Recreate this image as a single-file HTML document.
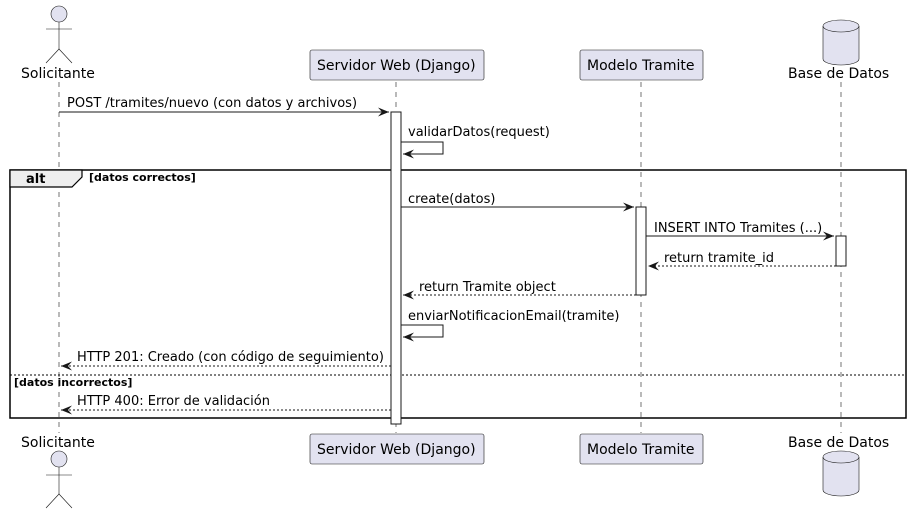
<!DOCTYPE html>
<html><head><meta charset="utf-8"><style>
html,body{margin:0;padding:0;background:#fff;}
svg{display:block;}
text{font-family:"DejaVu Sans","Liberation Sans",sans-serif;font-size:13px;fill:#000;}
.p{font-size:14px;}
.b{font-weight:bold;font-size:11px;}
</style></head><body>
<svg width="911" height="515" viewBox="0 0 911 515" xmlns="http://www.w3.org/2000/svg">
<defs>
<marker id="o" viewBox="0 0 12 10" refX="11" refY="5" markerWidth="12" markerHeight="10" markerUnits="userSpaceOnUse" orient="auto">
<path d="M0,0.5 L11,5 L0,9.5 L4,5 Z" fill="#181818"/>
</marker>
</defs>
<g stroke="#181818" stroke-width="0.6" stroke-dasharray="5,5">
<line x1="59" y1="82" x2="59" y2="433"/>
<line x1="396" y1="82" x2="396" y2="433"/>
<line x1="641" y1="82" x2="641" y2="433"/>
<line x1="841" y1="82" x2="841" y2="433"/>
</g>
<rect x="10" y="170" width="896" height="248" fill="none" stroke="#000" stroke-width="1.5"/>
<path d="M10,170 L82,170 L82,177 L72,187 L10,187 Z" fill="#eee" stroke="#000" stroke-width="1.2"/>
<text x="26" y="183" style="font-weight:bold;font-size:13px">alt</text>
<text x="89" y="181" class="b">[datos correctos]</text>
<line x1="10" y1="375" x2="906" y2="375" stroke="#000" stroke-width="1" stroke-dasharray="2,2"/>
<text x="14" y="386" class="b">[datos incorrectos]</text>
<rect x="391" y="112" width="10" height="312" fill="#fff" stroke="#181818"/>
<rect x="636" y="207" width="10" height="88" fill="#fff" stroke="#181818"/>
<rect x="836" y="236" width="10" height="30" fill="#fff" stroke="#181818"/>
<g stroke="#181818" stroke-width="1" fill="none">
<line x1="59" y1="112" x2="389" y2="112" marker-end="url(#o)"/>
<polyline points="401,142 443,142 443,154 403,154" marker-end="url(#o)"/>
<line x1="401" y1="207" x2="634" y2="207" marker-end="url(#o)"/>
<line x1="646" y1="236" x2="834" y2="236" marker-end="url(#o)"/>
<line x1="836" y1="266" x2="648" y2="266" stroke-dasharray="2,2" marker-end="url(#o)"/>
<line x1="636" y1="295" x2="403" y2="295" stroke-dasharray="2,2" marker-end="url(#o)"/>
<polyline points="401,325 443,325 443,337 403,337" marker-end="url(#o)"/>
<line x1="391" y1="366" x2="61" y2="366" stroke-dasharray="2,2" marker-end="url(#o)"/>
<line x1="391" y1="410" x2="61" y2="410" stroke-dasharray="2,2" marker-end="url(#o)"/>
</g>
<text x="67" y="107">POST /tramites/nuevo (con datos y archivos)</text>
<text x="408" y="136">validarDatos(request)</text>
<text x="408" y="203">create(datos)</text>
<text x="654" y="232">INSERT INTO Tramites (...)</text>
<text x="664" y="262">return tramite_id</text>
<text x="419" y="291">return Tramite object</text>
<text x="408" y="320">enviarNotificacionEmail(tramite)</text>
<text x="77" y="361">HTTP 201: Creado (con código de seguimiento)</text>
<text x="77" y="405">HTTP 400: Error de validación</text>
<g fill="#e2e2f0" stroke="#181818" stroke-width="0.6">
<rect x="310" y="50" width="174" height="30" rx="2"/>
<rect x="580" y="50" width="123" height="30" rx="2"/>
<rect x="310" y="434" width="174" height="30" rx="2"/>
<rect x="580" y="434" width="123" height="30" rx="2"/>
</g>
<text class="p" x="317" y="70">Servidor Web (Django)</text>
<text class="p" x="587" y="70">Modelo Tramite</text>
<text class="p" x="317" y="454">Servidor Web (Django)</text>
<text class="p" x="587" y="454">Modelo Tramite</text>
<g stroke="#181818" stroke-width="0.6" fill="#e2e2f0">
<circle cx="59" cy="14" r="8"/>
<line x1="59" y1="22" x2="59" y2="49"/>
<line x1="46" y1="29" x2="72" y2="29"/>
<polyline points="46,63 59,49 72,63" fill="none"/>
<circle cx="59" cy="459" r="8"/>
<line x1="59" y1="467" x2="59" y2="494"/>
<line x1="46" y1="475" x2="72" y2="475"/>
<polyline points="46,508 59,494 72,508" fill="none"/>
</g>
<text class="p" x="21" y="78">Solicitante</text>
<text class="p" x="21" y="447">Solicitante</text>
<g stroke="#181818" stroke-width="0.6" fill="#e2e2f0">
<path d="M823,26 A18,6 0 0 1 859,26 L859,59 A18,6 0 0 1 823,59 Z"/>
<path d="M823,26 A18,6 0 0 0 859,26" fill="none"/>
<path d="M823,457 A18,6 0 0 1 859,457 L859,490 A18,6 0 0 1 823,490 Z"/>
<path d="M823,457 A18,6 0 0 0 859,457" fill="none"/>
</g>
<text class="p" x="788" y="78">Base de Datos</text>
<text class="p" x="788" y="447">Base de Datos</text>
</svg>
</body></html>
